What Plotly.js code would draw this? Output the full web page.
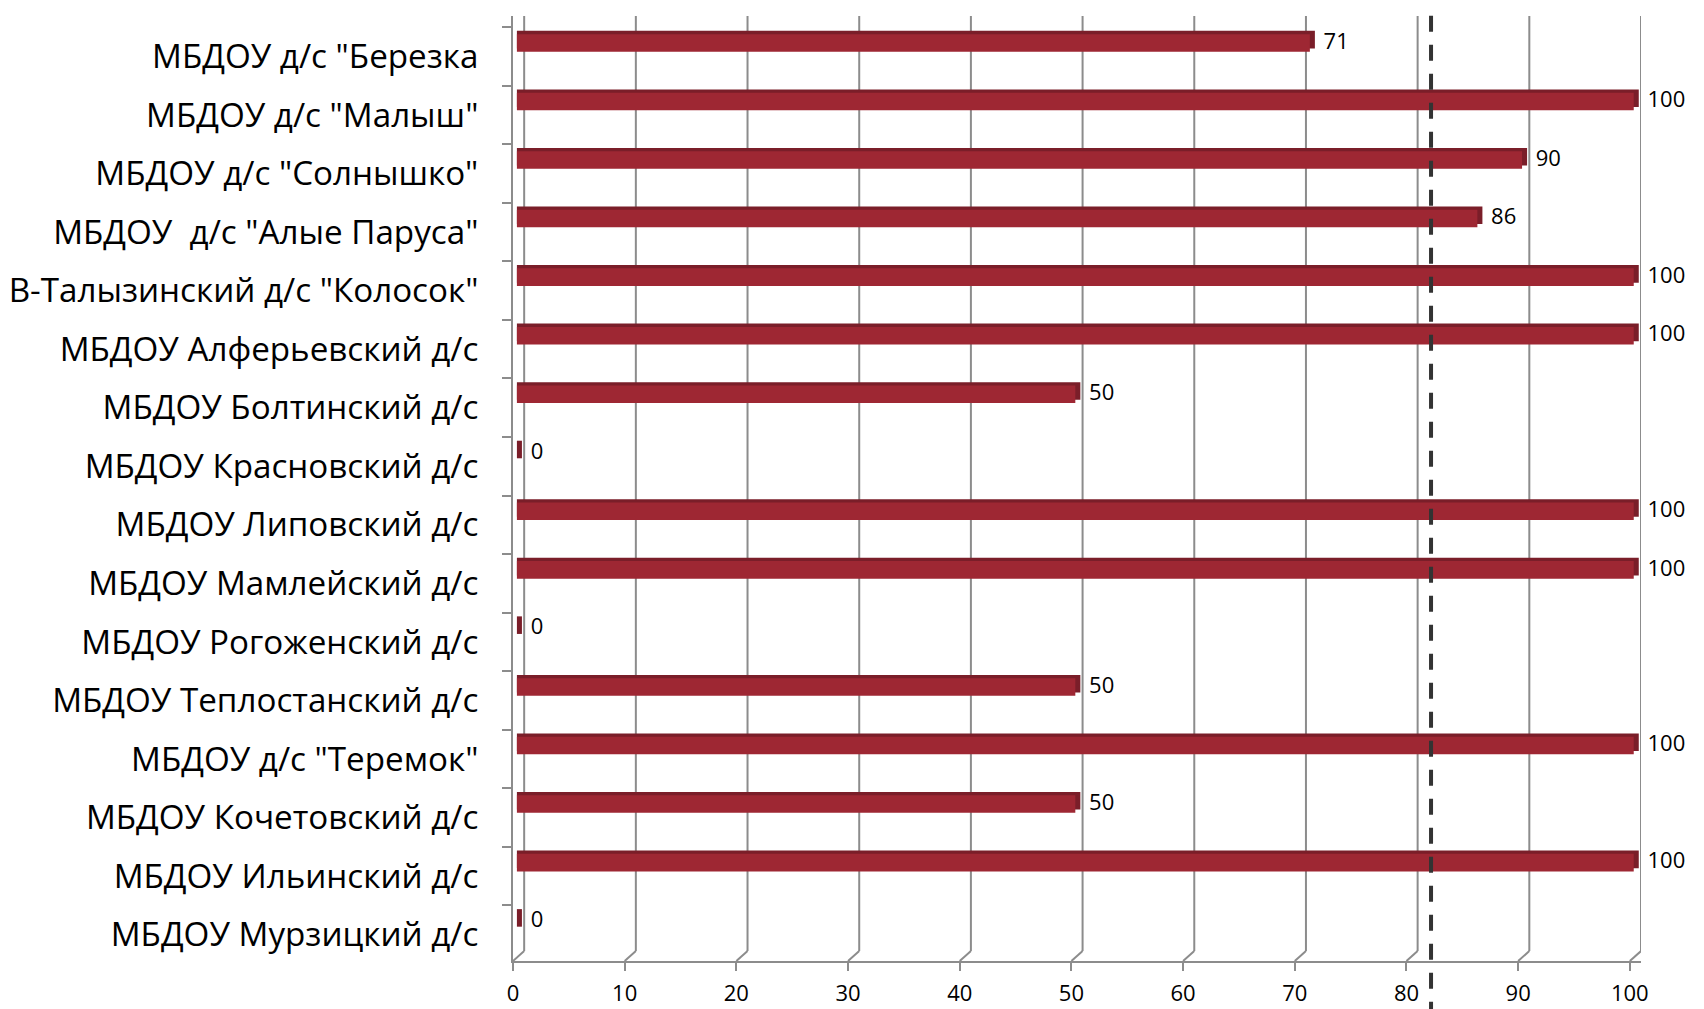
<!DOCTYPE html>
<html>
<head>
<meta charset="utf-8">
<script src="https://cdn.plot.ly/plotly-3.0.1.min.js"></script>
<style>html,body{margin:0;padding:0;background:#fff}#chart{width:1704px;height:1009px}</style>
</head>
<body>
<div id="chart"></div>
<script>
// ---- data ----
const categories = [
  'МБДОУ д/с "Березка',
  'МБДОУ д/с "Малыш"',
  'МБДОУ д/с "Солнышко"',
  'МБДОУ \u00a0д/с "Алые Паруса"',
  'В-Талызинский д/с "Колосок"',
  'МБДОУ Алферьевский д/с',
  'МБДОУ Болтинский д/с',
  'МБДОУ Красновский д/с',
  'МБДОУ Липовский д/с',
  'МБДОУ Мамлейский д/с',
  'МБДОУ Рогоженский д/с',
  'МБДОУ Теплостанский д/с',
  'МБДОУ д/с "Теремок"',
  'МБДОУ Кочетовский д/с',
  'МБДОУ Ильинский д/с',
  'МБДОУ Мурзицкий д/с'
];
const values = [71, 100, 90, 86, 100, 100, 50, 0, 100, 100, 0, 50, 100, 50, 100, 0];
const averageLine = 82.2;
const xTicks = [0, 10, 20, 30, 40, 50, 60, 70, 80, 90, 100];

// ---- style ----
const FONT = 'Open Sans, Noto Sans, sans-serif';
const depth = 0.45;           // 3D side depth in x units
const barBase = 0.35;         // 3D inset of bars from the front axis
const barW = 0.3;
const barOff = -barW / 2 - 0.23;
const topShift = 0.056;
const gridColor = '#8c8c8c';

const sideTrace = {
  type: 'bar', orientation: 'h',
  y: categories,
  x: values.map(v => v + depth),
  base: barBase,
  width: barW, offset: barOff - topShift,
  marker: {color: '#7a1e29', line: {width: 0}},
  text: values.map(v => '\u00a0' + v),
  textposition: 'outside',
  constraintext: 'none',
  textfont: {family: FONT, size: 22, color: '#000'},
  cliponaxis: false,
  hoverinfo: 'skip', showlegend: false
};
const frontTrace = {
  type: 'bar', orientation: 'h',
  y: categories,
  x: values,
  base: barBase,
  width: barW, offset: barOff,
  marker: {color: '#9e2733', line: {width: 0}},
  showlegend: false
};

const yBottom = 15.45, yTop = -0.69;
const shapes = [];
xTicks.forEach(t => {
  // back wall gridline
  shapes.push({type: 'line', layer: 'below', xref: 'x', yref: 'y',
    x0: t + 1, x1: t + 1, y0: yTop, y1: yBottom - 0.17,
    line: {color: gridColor, width: 2}});
  // floor diagonal
  shapes.push({type: 'line', layer: 'below', xref: 'x', yref: 'y',
    x0: t, x1: t + 1, y0: yBottom, y1: yBottom - 0.17,
    line: {color: gridColor, width: 2}});
});
// average dashed line
shapes.push({type: 'line', layer: 'above', xref: 'x', yref: 'paper',
  x0: averageLine, x1: averageLine, y0: -0.06, y1: 1.008,
  line: {color: '#333333', width: 4, dash: '16px,13px'}});

const layout = {
  width: 1704, height: 1009,
  paper_bgcolor: '#fff', plot_bgcolor: '#fff',
  margin: {l: 513, r: 63, t: 16, b: 48},
  barmode: 'overlay',
  font: {family: FONT, color: '#000'},
  xaxis: {
    range: [0, 101], tickvals: xTicks, ticktext: xTicks.map(String),
    showgrid: false, zeroline: false,
    showline: true, linecolor: gridColor, linewidth: 2,
    ticks: 'outside', ticklen: 8, tickcolor: gridColor, tickwidth: 2,
    tickfont: {family: FONT, size: 22, color: '#000'},
    ticklabelstandoff: 4
  },
  yaxis: {
    type: 'category', range: [yBottom, yTop],
    showgrid: false, zeroline: false,
    showline: true, linecolor: gridColor, linewidth: 2,
    ticks: 'outside', ticklen: 9, tickcolor: gridColor, tickwidth: 2,
    tickson: 'boundaries',
    tickfont: {family: FONT, size: 33.2, color: '#000'},
    ticklabelstandoff: 26
  },
  shapes: shapes
};

Plotly.newPlot('chart', [sideTrace, frontTrace], layout, {displayModeBar: false});
</script>
</body>
</html>
